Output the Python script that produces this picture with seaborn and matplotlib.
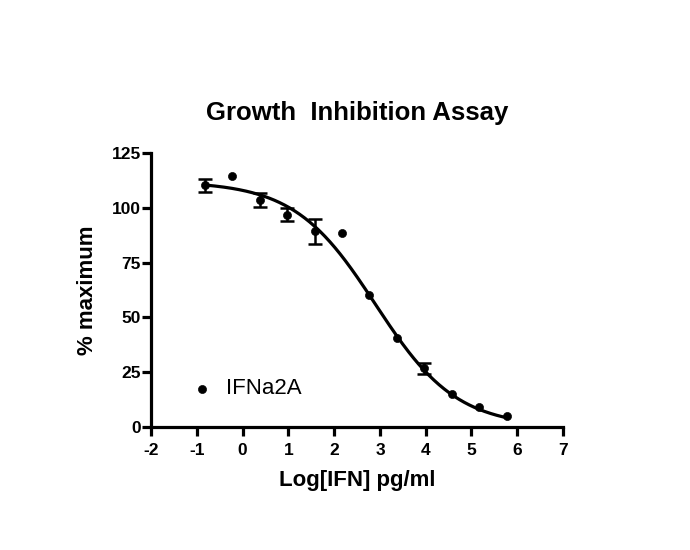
import numpy as np
import pandas as pd
import matplotlib
matplotlib.use("Agg")
import matplotlib.pyplot as plt
import seaborn as sns

# ── Dados ───────────────────────────────────────────────────────────────────
log_ifn   = [-0.83, -0.23, 0.37, 0.97, 1.57, 2.17, 2.77, 3.37, 3.97, 4.57, 5.17, 5.77]
pct_max   = [110.2, 114.6, 103.6, 96.8, 89.2, 88.7, 60.3, 40.8, 26.8, 15.1, 9.3, 5.0]
erro_sem  = [3.0, 0.0, 3.3, 3.0, 5.7, 0.0, 0.0, 0.0, 2.5, 0.0, 0.0, 0.0]

# parâmetros do ajuste sigmoidal (4PL)
fit_top, fit_bottom, fit_logec50, fit_hill = 112.0, 0.0, 2.9, 0.49

xticks = [-2, -1, 0, 1, 2, 3, 4, 5, 6, 7]
yticks = [0, 25, 50, 75, 100, 125]

df = pd.DataFrame({"log": log_ifn, "pct": pct_max, "err": erro_sem})
xc = np.linspace(min(log_ifn), max(log_ifn), 300)
curva = pd.DataFrame({"log": xc,
                      "pct": fit_bottom + (fit_top - fit_bottom) /
                             (1 + 10 ** ((xc - fit_logec50) * fit_hill))})

# ── Estilo ──────────────────────────────────────────────────────────────────
sns.set_style("ticks")
plt.rcParams["font.family"] = ["Liberation Sans", "DejaVu Sans"]
plt.rcParams.update({
    "axes.unicode_minus": False,
    "text.color": "black",
    "axes.labelcolor": "black",
    "xtick.color": "black",
    "ytick.color": "black",
    "axes.edgecolor": "black",
})

fig = plt.figure(figsize=(6.9, 5.5), dpi=100)
ax = fig.add_axes([0.219, 0.2236, 0.597, 0.4984])

LW = 2.3
sns.lineplot(data=curva, x="log", y="pct", color="black", lw=LW, ax=ax, clip_on=False)
com_erro = df[df["err"] > 0]
ax.errorbar(com_erro["log"], com_erro["pct"], yerr=com_erro["err"], fmt="none",
            ecolor="black", elinewidth=1.8, capsize=5, capthick=1.8, clip_on=False)
sns.scatterplot(data=df, x="log", y="pct", color="black", s=34, edgecolor="black",
                ax=ax, clip_on=False, zorder=5, label="IFNa2A")

ax.set_xlim(-2, 7)
ax.set_ylim(0, 125)
ax.set_xticks(xticks)
ax.set_yticks(yticks)
for s in ["top", "right"]:
    ax.spines[s].set_visible(False)
for s in ["left", "bottom"]:
    ax.spines[s].set_linewidth(LW)
ax.tick_params(width=LW, length=6.5, labelsize=12.5)
ax.tick_params(axis="x", pad=5)
ax.tick_params(axis="y", pad=1)
for lab in ax.get_xticklabels() + ax.get_yticklabels():
    lab.set_fontweight("bold")

ax.set_xlabel("Log[IFN] pg/ml", fontsize=16, fontweight="bold", labelpad=9)
ax.set_ylabel("% maximum", fontsize=16, fontweight="bold", labelpad=10)
ax.set_title("Growth  Inhibition Assay", fontsize=18.5, fontweight="bold", pad=24)

ax.legend(loc="center left", bbox_to_anchor=(0.02, 0.139), frameon=False,
          fontsize=16, handletextpad=0.1, markerscale=1.0)

fig.savefig("out.png", dpi=100)
